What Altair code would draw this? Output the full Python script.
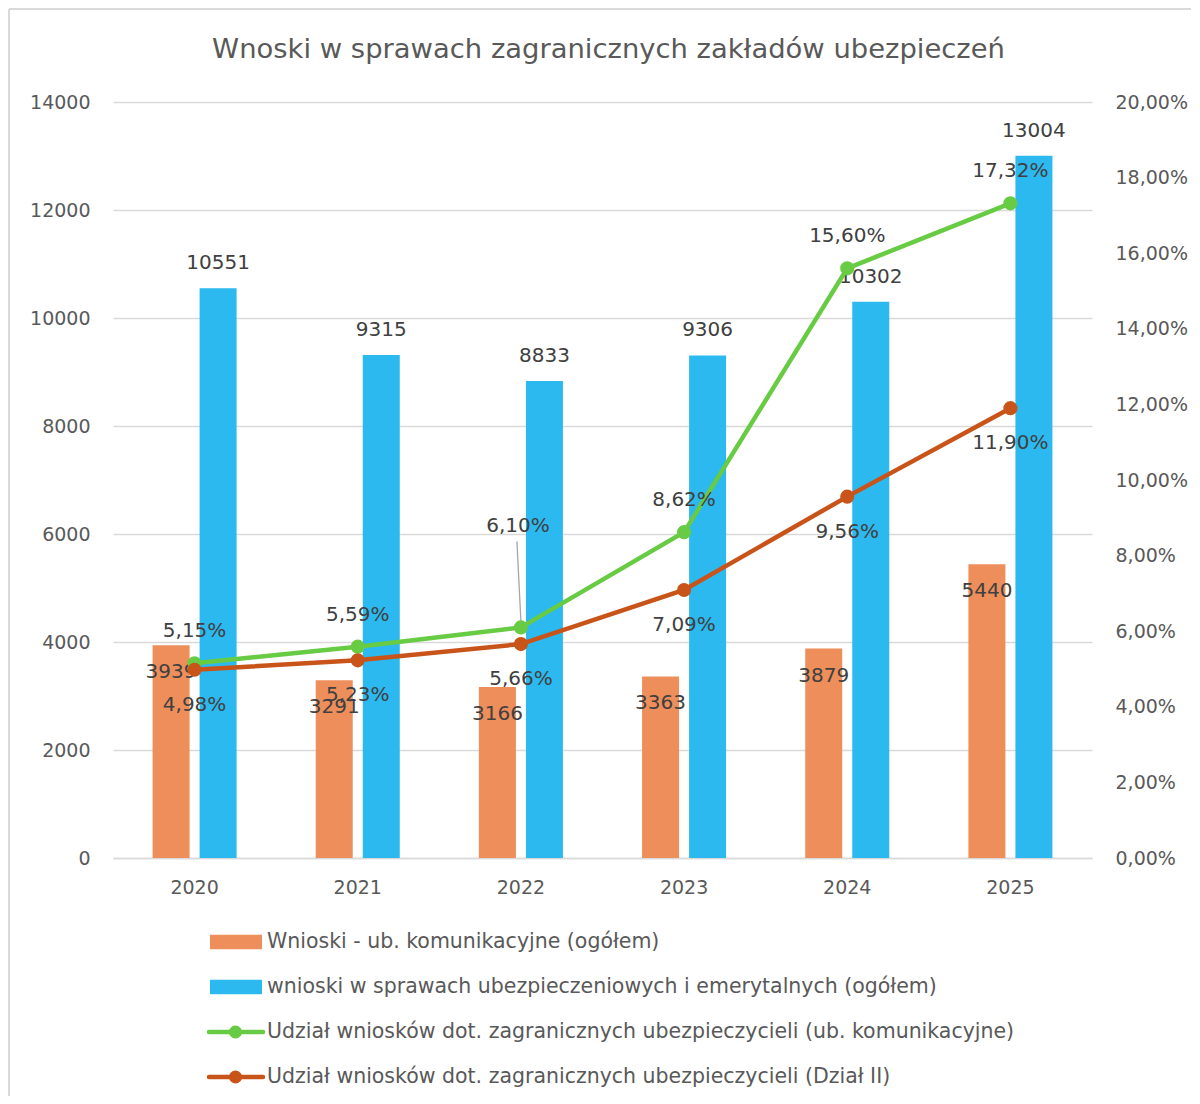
import altair as alt
import pandas as pd

# ---- data ----
years = ["2020", "2021", "2022", "2023", "2024", "2025"]
wnioski_kom = [3939, 3291, 3166, 3363, 3879, 5440]
wnioski_ubezp = [10551, 9315, 8833, 9306, 10302, 13004]
udzial_kom = [5.15, 5.59, 6.10, 8.62, 15.60, 17.32]
udzial_dzial2 = [4.98, 5.23, 5.66, 7.09, 9.56, 11.90]

series_names = [
    "Wnioski - ub. komunikacyjne (ogółem)",
    "wnioski w sprawach ubezpieczeniowych i emerytalnych (ogółem)",
    "Udział wniosków dot. zagranicznych ubezpieczycieli (ub. komunikacyjne)",
    "Udział wniosków dot. zagranicznych ubezpieczycieli (Dział II)",
]
series_colors = ["#ED8E5B", "#2CB9EF", "#68CB44", "#C9541A"]
title_text = "Wnoski w sprawach zagranicznych zakładów ubezpieczeń"

FONT = "DejaVu Sans"
LABEL_COLOR = "#404040"
AXIS_COLOR = "#595959"

# ---- tables ----
bars_df = pd.DataFrame(
    [{"rok": y, "seria": series_names[0], "wartosc": v, "idx": 0} for y, v in zip(years, wnioski_kom)]
    + [{"rok": y, "seria": series_names[1], "wartosc": v, "idx": 1} for y, v in zip(years, wnioski_ubezp)]
)
lines_df = pd.DataFrame(
    [{"rok": y, "seria": series_names[2], "pct": v / 100, "etykieta": f"{v:.2f}%".replace(".", ",")}
     for y, v in zip(years, udzial_kom)]
    + [{"rok": y, "seria": series_names[3], "pct": v / 100, "etykieta": f"{v:.2f}%".replace(".", ",")}
       for y, v in zip(years, udzial_dzial2)]
)

x_enc = alt.X(
    "rok:N",
    sort=years,
    scale=alt.Scale(paddingInner=0.485, paddingOuter=0.2425),
    axis=alt.Axis(
        title=None, labelAngle=0, labelFontSize=19, labelColor=AXIS_COLOR, labelFont=FONT,
        ticks=False, domain=True, domainColor="#D9D9D9", domainWidth=1.5, labelPadding=20,
    ),
)
xoff = alt.XOffset("idx:O", scale=alt.Scale(paddingInner=0.213, paddingOuter=0))
color_bars = alt.Color(
    "seria:N",
    scale=alt.Scale(domain=series_names, range=series_colors),
    legend=None,
)

y_left = alt.Y(
    "wartosc:Q",
    scale=alt.Scale(domain=[0, 14000]),
    axis=alt.Axis(
        title=None, values=list(range(0, 14001, 2000)), format="d",
        grid=True, gridColor="#D9D9D9", gridWidth=1.5, domain=False, ticks=False,
        labelFontSize=19, labelColor=AXIS_COLOR, labelFont=FONT, labelPadding=23,
    ),
)

bars = alt.Chart(bars_df).mark_bar().encode(x=x_enc, xOffset=xoff, y=y_left, color=color_bars)
lbl_kom = alt.Chart(bars_df).transform_filter("datum.idx == 0").mark_text(
    fontSize=20, font=FONT, color=LABEL_COLOR, baseline="middle", dy=27
).encode(x=x_enc, xOffset=xoff, y=y_left, text=alt.Text("wartosc:Q", format="d"))
lbl_ubezp = alt.Chart(bars_df).transform_filter("datum.idx == 1").mark_text(
    fontSize=20, font=FONT, color=LABEL_COLOR, baseline="middle", dy=-25
).encode(x=x_enc, xOffset=xoff, y=y_left, text=alt.Text("wartosc:Q", format="d"))
bar_layer = alt.layer(bars, lbl_kom, lbl_ubezp)

y_right = alt.Y(
    "pct:Q",
    scale=alt.Scale(domain=[0, 0.20]),
    axis=alt.Axis(
        title=None, orient="right", values=[i / 100 for i in range(0, 21, 2)],
        labelExpr="replace(format(datum.value, '.2%'), '.', ',')",
        grid=False, domain=False, ticks=False,
        labelFontSize=19, labelColor=AXIS_COLOR, labelFont=FONT, labelPadding=23,
    ),
)
color_lines = alt.Color(
    "seria:N",
    scale=alt.Scale(domain=series_names, range=series_colors),
    legend=None,
)
lines = alt.Chart(lines_df).mark_line(strokeWidth=4.5).encode(
    x=x_enc, y=y_right, color=color_lines, detail="seria:N"
)
points = alt.Chart(lines_df).mark_point(filled=True, opacity=1, size=200).encode(
    x=x_enc, y=y_right, color=color_lines
)
lbl_green = alt.Chart(lines_df).transform_filter(
    f"datum.seria == '{series_names[2]}' && datum.rok != '2022'"
).mark_text(fontSize=20, font=FONT, color=LABEL_COLOR, baseline="middle", dy=-32).encode(
    x=x_enc, y=y_right, text="etykieta:N"
)
lbl_green_2022 = alt.Chart(lines_df).transform_filter(
    f"datum.seria == '{series_names[2]}' && datum.rok == '2022'"
).mark_text(fontSize=20, font=FONT, color=LABEL_COLOR, baseline="middle", dx=-3, dy=-101).encode(
    x=x_enc, y=y_right, text="etykieta:N"
)
leader_2022 = alt.Chart(lines_df).transform_filter(
    f"datum.seria == '{series_names[2]}' && datum.rok == '2022'"
).mark_rule(
    color="#A6A6A6", strokeWidth=1.3, xOffset=0, x2Offset=-4, yOffset=-6, y2Offset=-86
).encode(
    x=x_enc, x2=alt.X2("rok:N"), y=y_right, y2=alt.Y2("pct:Q"),
)
lbl_red = alt.Chart(lines_df).transform_filter(
    f"datum.seria == '{series_names[3]}'"
).mark_text(fontSize=20, font=FONT, color=LABEL_COLOR, baseline="middle", dy=35).encode(
    x=x_enc, y=y_right, text="etykieta:N"
)
line_layer = alt.layer(lines, leader_2022, points, lbl_green, lbl_green_2022, lbl_red)

# ---- title, legend and frame drawn as text/rule marks around the plot ----
W, H = 979, 756
title = alt.Chart(pd.DataFrame({"t": [title_text]})).mark_text(
    fontSize=27.4, font=FONT, color=AXIS_COLOR, baseline="middle", align="center"
).encode(x=alt.value(W / 2 + 6), y=alt.value(-52), text="t:N")

legend_layers = []
for i, (name, col) in enumerate(zip(series_names, series_colors)):
    yy = 840 + i * 45
    one = pd.DataFrame({"n": [name]})
    if i < 2:
        legend_layers.append(
            alt.Chart(one).mark_rule(color=col, strokeWidth=14.5, strokeCap="butt").encode(
                x=alt.value(97), x2=alt.value(149), y=alt.value(yy)
            )
        )
    else:
        legend_layers.append(
            alt.Chart(one).mark_rule(color=col, strokeWidth=4.5, strokeCap="round").encode(
                x=alt.value(96), x2=alt.value(150), y=alt.value(yy)
            )
        )
        legend_layers.append(
            alt.Chart(one).mark_point(filled=True, opacity=1, size=170, color=col).encode(
                x=alt.value(122.5), y=alt.value(yy)
            )
        )
    legend_layers.append(
        alt.Chart(one).mark_text(
            fontSize=20.5, font=FONT, color=AXIS_COLOR, align="left", baseline="middle"
        ).encode(x=alt.value(154), y=alt.value(yy), text="n:N")
    )

frame_top = alt.Chart(pd.DataFrame({"f": [0]})).mark_rule(color="#D9D9D9", strokeWidth=2).encode(
    x=alt.value(-104), x2=alt.value(1078), y=alt.value(-93)
)
frame_left = alt.Chart(pd.DataFrame({"f": [0]})).mark_rule(color="#D9D9D9", strokeWidth=2).encode(
    x=alt.value(-104), y=alt.value(-93), y2=alt.value(994)
)

chart = alt.layer(
    bar_layer, line_layer, title, frame_top, frame_left, *legend_layers
).resolve_scale(y="independent", color="independent").properties(
    width=W, height=H, padding=0, background="white"
).configure_view(stroke=None)

chart.save("out.html", embed_options={"renderer": "svg", "actions": False})
